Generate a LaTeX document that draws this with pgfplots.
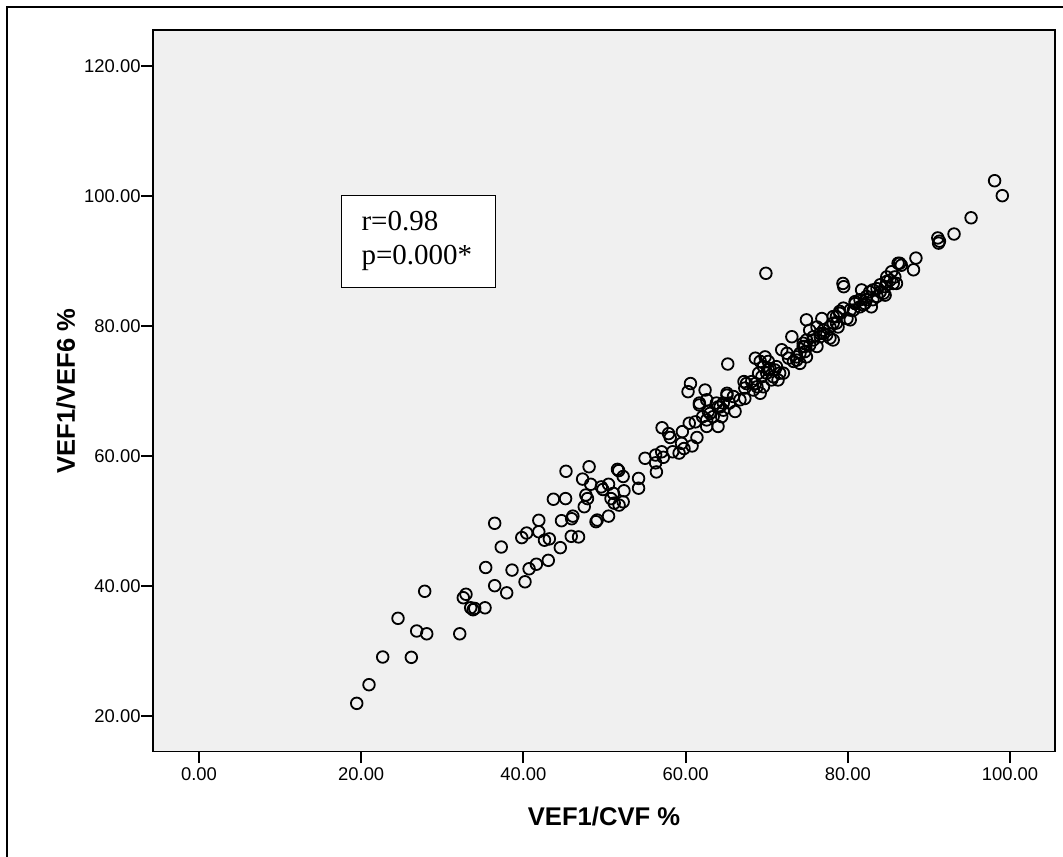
\documentclass[border=0pt]{standalone}
\usepackage{fontspec}
\setmainfont{Liberation Sans}
\newfontfamily\serifbox{Liberation Serif}
\usepackage{pgfplots}
\pgfplotsset{compat=1.18}
\definecolor{bgGray}{RGB}{240,240,240}

\begin{document}
\begin{tikzpicture}
\begin{axis}[
  at={(0,0)}, anchor=south west,
  scale only axis,
  width=451pt, height=360.85pt,
  xmin=-5.672, xmax=105.55,
  ymin=14.46, ymax=125.49,
  xtick={0,20,40,60,80,100},
  ytick={20,40,60,80,100,120},
  xtick pos=bottom, ytick pos=left,
  tick align=outside,
  major tick length=5.75pt,
  major tick style={line width=1pt, black},
  axis line style={line width=0.7pt, black},
  axis background/.style={fill=bgGray},
  /pgf/number format/assume math mode=true,
  /pgf/number format/.cd, fixed, fixed zerofill, precision=2, /pgfplots/.cd,
  tick label style={font=\fontsize{9.2}{10}\selectfont},
  xticklabel style={inner sep=2.2pt},
  yticklabel style={inner xsep=0.3pt},
  xlabel={VEF1/CVF \%},
  ylabel={VEF1/VEF6 \%},
  label style={font=\fontsize{12.8}{14}\selectfont\bfseries},
  xlabel style={at={([yshift=-36.8pt]axis description cs:0.5,0)}, anchor=base},
  ylabel style={at={([xshift=-39pt]axis description cs:0,0.5)}, anchor=base},
  clip=false,
]
\addplot[only marks, mark=o, mark size=2.9pt,
  mark options={line width=0.9pt, draw=black}] table {
x y
19.45 21.9
20.96 24.77
22.65 29.03
26.18 28.98
24.54 34.98
26.84 33.03
28.08 32.6
27.83 39.14
32.15 32.6
32.59 38.15
32.92 38.68
33.5 36.6
33.8 36.3
34.0 36.5
35.27 36.6
36.46 40.0
37.94 38.9
35.35 42.8
38.6 42.4
37.27 45.95
36.46 49.6
39.8 47.4
40.4 48.1
40.7 42.6
40.2 40.6
41.6 43.3
43.07 43.9
41.9 50.06
41.9 48.3
42.6 47.0
43.2 47.2
44.55 45.85
44.7 50.0
45.95 50.3
46.1 50.7
45.9 47.6
46.8 47.5
43.7 53.3
45.2 53.4
45.25 57.6
48.1 58.3
47.3 56.4
48.3 55.6
47.7 53.95
47.9 53.4
47.5 52.15
48.95 49.85
49.1 50.1
49.6 55.2
49.8 54.8
50.5 55.6
51.1 54.2
50.8 53.4
51.2 52.7
51.8 52.4
52.3 52.9
50.5 50.7
51.6 57.9
51.75 57.7
52.3 56.8
52.4 54.6
54.2 56.5
54.2 55.0
55.0 59.6
56.3 58.9
56.4 57.5
56.3 60.1
57.25 59.75
57.05 60.6
57.1 64.3
57.9 63.4
58.1 62.8
58.4 60.6
59.2 60.4
59.6 63.7
59.5 61.9
59.8 61.1
60.8 61.5
61.4 62.8
60.3 69.85
60.6 71.1
60.45 65.0
61.2 65.2
61.7 68.1
61.7 67.8
62.6 68.6
62.4 70.1
62.1 66.0
62.8 66.8
63.0 66.5
62.6 65.5
63.4 66.0
64.0 64.5
62.6 64.5
64.25 67.5
64.0 67.5
64.65 67.0
64.45 66.0
65.4 68.1
65.1 69.3
63.8 68.1
69.9 88.06
65.2 74.1
79.4 86.5
79.5 86.0
64.65 68.1
65.1 69.6
65.9 69.1
66.1 66.8
66.7 68.6
67.3 68.8
67.5 71.1
67.2 71.4
67.3 70.4
68.15 71.4
68.6 71.1
68.35 70.1
69.2 69.6
68.8 70.6
69.6 70.6
70.6 71.65
68.6 75.0
69.2 74.5
69.8 75.2
70.2 74.5
69.6 73.7
70.0 72.7
70.2 73.2
70.4 73.4
69.4 72.15
69.0 72.7
70.8 72.15
71.0 73.2
71.2 73.7
71.6 72.7
71.4 71.65
72.05 72.7
71.85 76.3
72.5 75.75
72.7 75.0
73.1 78.3
73.3 74.5
73.7 75.2
73.7 74.7
74.1 74.2
74.1 75.75
74.5 77.3
74.5 76.8
74.7 76.0
74.7 76.8
74.9 75.2
74.9 77.8
75.3 77.0
75.75 77.8
75.75 78.3
76.2 76.8
76.6 78.3
76.6 78.8
76.8 81.1
74.9 80.9
75.3 79.3
76.2 79.8
77.0 79.3
77.0 78.8
77.4 78.6
77.8 78.1
77.8 79.8
78.2 77.8
78.2 80.4
78.6 81.4
78.6 80.4
78.8 79.8
79.0 82.2
79.0 81.9
78.2 81.4
79.45 82.7
79.9 81.1
80.7 82.4
80.3 80.9
80.3 82.4
80.9 83.7
80.9 83.4
81.5 84.0
81.5 82.9
81.9 83.2
82.1 83.4
82.3 84.5
82.3 84.0
82.9 82.9
82.7 85.2
83.1 84.0
83.1 85.5
83.6 85.7
83.6 84.5
84.0 86.3
84.0 85.2
84.4 85.0
84.6 84.7
84.6 86.0
84.8 86.8
84.8 87.5
85.2 87.0
85.6 86.5
86.0 86.5
85.4 88.3
86.2 89.6
85.8 87.5
81.7 85.5
86.4 89.6
86.6 89.3
88.1 88.6
88.4 90.4
91.1 93.5
91.2 92.7
91.3 93.0
93.1 94.1
95.2 96.6
98.1 102.3
99.05 100.0
};
\node[draw, line width=0.6pt, fill=white, minimum width=77pt, minimum height=46pt,
  inner sep=0pt] (box) at (axis cs:27.1,93.0) {};
\node[anchor=west, align=left, inner sep=0pt,
  font=\serifbox\fontsize{14.5}{17}\selectfont] at ([xshift=10pt]box.west) {r=0.98\\p=0.000*};
\end{axis}
\draw[line width=1.1pt] (-73pt,-60pt) -- (-73pt,372.35pt) -- (470pt,372.35pt);
\pgfresetboundingbox
\useasboundingbox (-76.5pt,-52.15pt) rectangle (455pt,375.85pt);
\end{tikzpicture}
\end{document}
